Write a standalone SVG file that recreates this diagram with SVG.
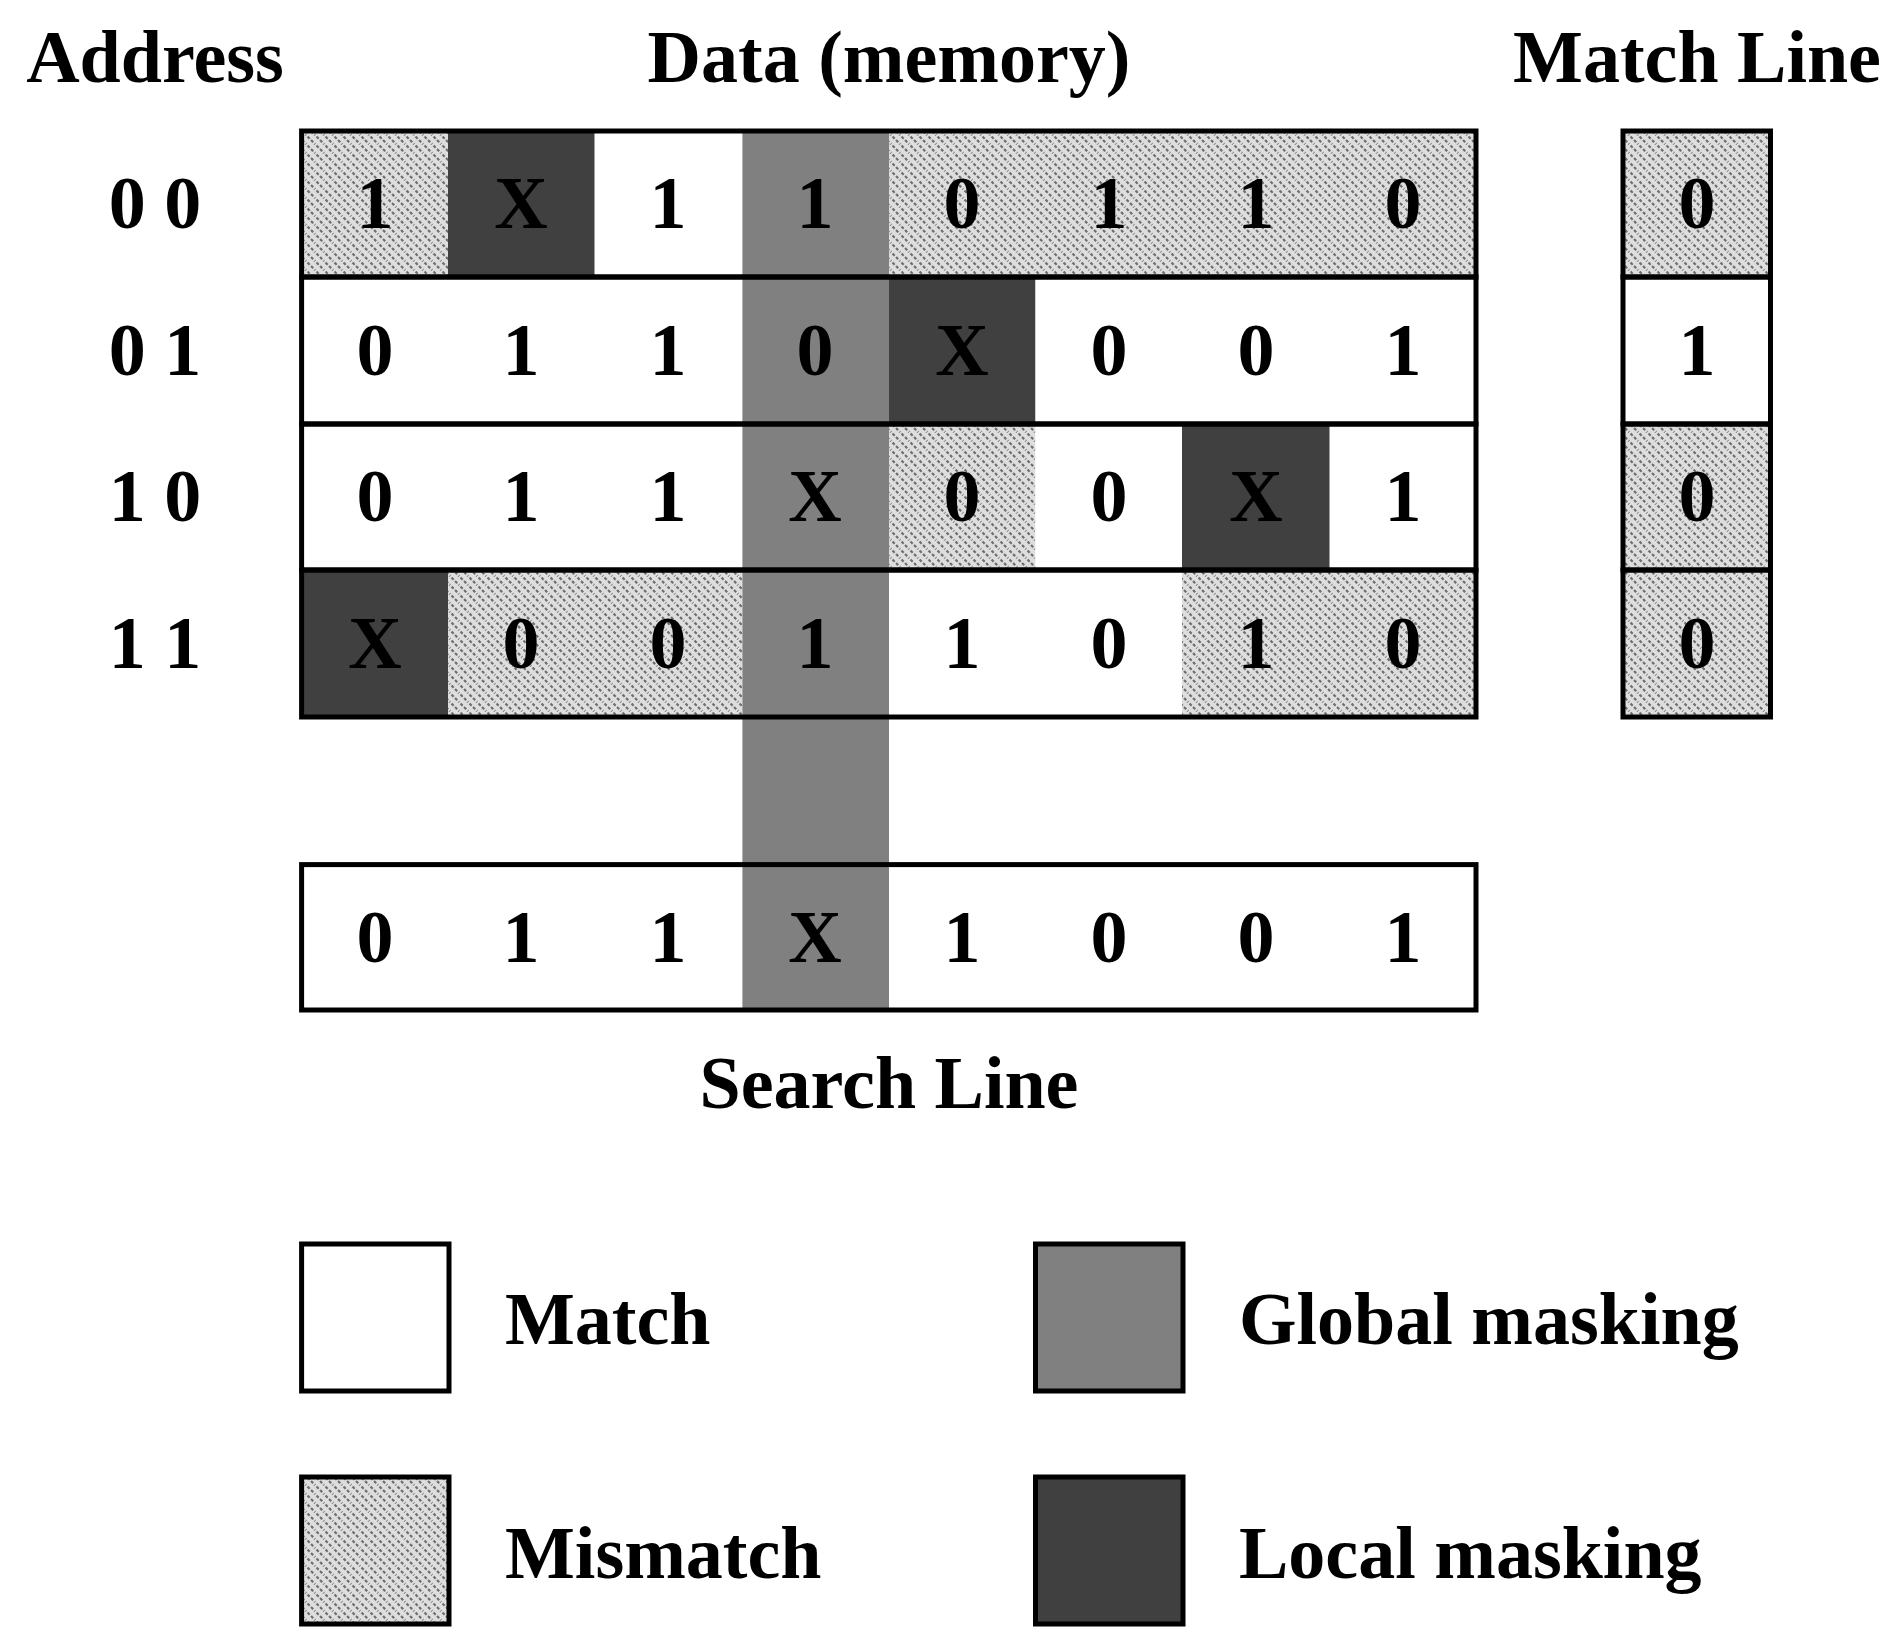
<svg xmlns="http://www.w3.org/2000/svg" width="1899" height="1650" viewBox="0 0 1899 1650">
<defs>
<pattern id="hatch" width="9" height="9" patternUnits="userSpaceOnUse">
<rect width="9" height="9" fill="#dedede"/>
<path d="M-2,-2 L11,11 M-2,7 L2,11 M7,-2 L11,2" stroke="#6e6e6e" stroke-width="2.2" stroke-dasharray="3,2"/>
</pattern>
<style>
.t{font-family:"Liberation Serif","DejaVu Serif",serif;font-weight:bold;fill:#000}
.h{font-size:74px}
.d{font-size:74px;text-anchor:middle}
.m{fill:url(#hatch)}
.w{fill:#fff}
.g{fill:#808080}
.l{fill:#404040}
.b{fill:none;stroke:#000;stroke-width:5}
</style>
</defs>
<rect width="1899" height="1650" fill="#fff"/>
<g id="headers">
<text class="t h" x="155" y="82" text-anchor="middle">Address</text>
<text class="t h" x="889" y="82" text-anchor="middle">Data (memory)</text>
<text class="t h" x="1697" y="82" text-anchor="middle">Match Line</text>
<text class="t h" x="889" y="1108" text-anchor="middle">Search Line</text>
</g>
<g id="addresses" class="t d">
<text x="155" y="228">0 0</text>
<text x="155" y="375">0 1</text>
<text x="155" y="521">1 0</text>
<text x="155" y="668">1 1</text>
</g>
<g id="cells">
<!-- row 00 -->
<rect class="m" x="301.6" y="131" width="146.4" height="146"/>
<rect class="l" x="448" y="131" width="146.7" height="146"/>
<rect class="w" x="594.7" y="131" width="147.7" height="146"/>
<rect class="m" x="889" y="131" width="587" height="146"/>
<!-- row 01 -->
<rect class="w" x="301.6" y="277" width="440.8" height="147"/>
<rect class="l" x="889" y="277" width="146.5" height="147"/>
<rect class="w" x="1035.5" y="277" width="440.5" height="147"/>
<!-- row 10 -->
<rect class="w" x="301.6" y="424" width="440.8" height="146"/>
<rect class="m" x="889" y="424" width="146.5" height="146"/>
<rect class="w" x="1035.5" y="424" width="146.5" height="146"/>
<rect class="l" x="1182" y="424" width="147.7" height="146"/>
<rect class="w" x="1329.7" y="424" width="146.3" height="146"/>
<!-- row 11 -->
<rect class="l" x="301.6" y="570" width="146.4" height="147"/>
<rect class="m" x="448" y="570" width="294.4" height="147"/>
<rect class="w" x="889" y="570" width="293" height="147"/>
<rect class="m" x="1182" y="570" width="294" height="147"/>
<!-- global column -->
<rect class="g" x="742.4" y="131" width="146.6" height="879"/>
<!-- match line -->
<rect class="m" x="1623" y="131" width="147.5" height="146"/>
<rect class="w" x="1623" y="277" width="147.5" height="147"/>
<rect class="m" x="1623" y="424" width="147.5" height="293"/>
</g>
<g id="borders">
<rect class="b" x="301.6" y="131" width="1174.4" height="146"/>
<rect class="b" x="301.6" y="277" width="1174.4" height="147"/>
<rect class="b" x="301.6" y="424" width="1174.4" height="146"/>
<rect class="b" x="301.6" y="570" width="1174.4" height="147"/>
<rect class="b" x="1623" y="131" width="147.5" height="146"/>
<rect class="b" x="1623" y="277" width="147.5" height="147"/>
<rect class="b" x="1623" y="424" width="147.5" height="146"/>
<rect class="b" x="1623" y="570" width="147.5" height="147"/>
<rect class="b" x="301.6" y="864.6" width="1174.4" height="145.4"/>
</g>
<g id="digits" class="t d">
<text x="375" y="228">1</text><text x="521" y="228">X</text><text x="668" y="228">1</text><text x="815" y="228">1</text><text x="962" y="228">0</text><text x="1109" y="228">1</text><text x="1256" y="228">1</text><text x="1403" y="228">0</text>
<text x="375" y="375">0</text><text x="521" y="375">1</text><text x="668" y="375">1</text><text x="815" y="375">0</text><text x="962" y="375">X</text><text x="1109" y="375">0</text><text x="1256" y="375">0</text><text x="1403" y="375">1</text>
<text x="375" y="521">0</text><text x="521" y="521">1</text><text x="668" y="521">1</text><text x="815" y="521">X</text><text x="962" y="521">0</text><text x="1109" y="521">0</text><text x="1256" y="521">X</text><text x="1403" y="521">1</text>
<text x="375" y="668">X</text><text x="521" y="668">0</text><text x="668" y="668">0</text><text x="815" y="668">1</text><text x="962" y="668">1</text><text x="1109" y="668">0</text><text x="1256" y="668">1</text><text x="1403" y="668">0</text>
<text x="1697" y="228">0</text><text x="1697" y="375">1</text><text x="1697" y="521">0</text><text x="1697" y="668">0</text>
<text x="375" y="962">0</text><text x="521" y="962">1</text><text x="668" y="962">1</text><text x="815" y="962">X</text><text x="962" y="962">1</text><text x="1109" y="962">0</text><text x="1256" y="962">0</text><text x="1403" y="962">1</text>
</g>
<g id="legend-match"><rect class="w b" x="301.6" y="1244" width="147.4" height="147" style="fill:#fff"/><text class="t h" x="505" y="1344">Match</text></g>
<g id="legend-mismatch"><rect x="301.6" y="1477" width="147.4" height="147" fill="url(#hatch)" stroke="#000" stroke-width="5"/><text class="t h" x="505" y="1578">Mismatch</text></g>
<g id="legend-global"><rect x="1035.5" y="1244" width="147.5" height="147" fill="#808080" stroke="#000" stroke-width="5"/><text class="t h" x="1239" y="1344">Global masking</text></g>
<g id="legend-local"><rect x="1035.5" y="1477" width="147.5" height="147" fill="#404040" stroke="#000" stroke-width="5"/><text class="t h" x="1239" y="1578">Local masking</text></g>
</svg>
